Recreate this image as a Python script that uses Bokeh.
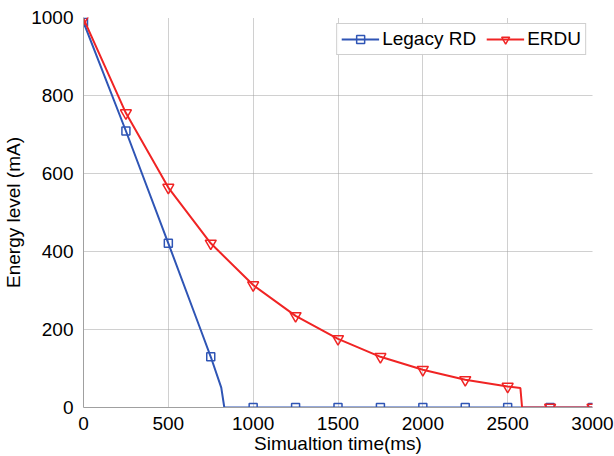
from bokeh.plotting import figure
from bokeh.models import Legend, LegendItem, FixedTicker
from bokeh.embed import file_html
from bokeh.resources import INLINE

# marker data (every 250 ms)
t_markers = [0, 250, 500, 750, 1000, 1250, 1500, 1750, 2000, 2250, 2500, 2750, 3000]
legacy_markers = [988, 709, 421, 130, 0, 0, 0, 0, 0, 0, 0, 0, 0]
erdu_markers = [997, 755, 564, 421, 314, 235, 176, 130, 97, 71, 54, 0, 0]

# line data (includes depletion points)
legacy_t = [0, 250, 500, 690, 750, 812, 830, 1000, 1250, 1500, 1750, 2000, 2250, 2500, 2750, 3000]
legacy_e = [988, 709, 421, 200, 130, 51, 0, 0, 0, 0, 0, 0, 0, 0, 0, 0]
erdu_t = [0, 250, 500, 750, 1000, 1250, 1500, 1750, 2000, 2250, 2500, 2575, 2585, 2750, 3000]
erdu_e = [997, 755, 564, 421, 314, 235, 176, 130, 97, 71, 54, 50, 0, 0, 0]

x_ticks = [0, 500, 1000, 1500, 2000, 2500, 3000]
y_ticks = [0, 200, 400, 600, 800, 1000]

BLUE = "#2f55b5"
RED = "#f02424"
FONT = "Liberation Sans"

p = figure(width=614, height=456, x_range=(0, 3000), y_range=(0, 1000),
           output_backend="svg", toolbar_location=None,
           min_border_left=79, min_border_top=17, min_border_right=22, min_border_bottom=47,
           background_fill_color="white", border_fill_color="white")
p.outline_line_color = None

l1 = p.line(legacy_t, legacy_e, line_color=BLUE, line_width=2)
s1 = p.scatter(t_markers, legacy_markers, marker="square", size=8,
               line_color=BLUE, line_width=1.5, fill_alpha=0)
l2 = p.line(erdu_t, erdu_e, line_color=RED, line_width=2)
s2 = p.scatter(t_markers, erdu_markers, marker="inverted_triangle", size=11,
               line_color=RED, line_width=1.5, fill_alpha=0)

p.xaxis.ticker = FixedTicker(ticks=x_ticks)
p.yaxis.ticker = FixedTicker(ticks=y_ticks)
for ax in (p.xaxis[0], p.yaxis[0]):
    ax.major_label_text_font = FONT
    ax.major_label_text_font_size = "19px"
    ax.major_label_text_color = "black"
    ax.axis_label_text_font = FONT
    ax.axis_label_text_font_size = "19px"
    ax.axis_label_text_font_style = "normal"
    ax.axis_label_text_color = "black"
    ax.axis_line_color = "#a0a0a0"
    ax.axis_line_width = 1
    ax.major_tick_line_color = None
    ax.minor_tick_line_color = None
p.xaxis.axis_label = "Simualtion time(ms)"
p.yaxis.axis_label = "Energy level (mA)"
p.xaxis.major_label_standoff = 3
p.xaxis.axis_label_standoff = 0
p.yaxis.major_label_standoff = 4
p.yaxis.axis_label_standoff = 4

for g in (p.xgrid[0], p.ygrid[0]):
    g.grid_line_color = "#a0a0a0"
    g.grid_line_dash = "1 1"
    g.grid_line_width = 1

legend = Legend(items=[LegendItem(label="Legacy RD", renderers=[l1, s1]),
                       LegendItem(label="ERDU", renderers=[l2, s2])],
                orientation="horizontal", location="top_right")
legend.label_text_font = FONT
legend.label_text_font_size = "19px"
legend.label_text_color = "black"
legend.border_line_color = "#a0a0a0"
legend.border_line_width = 1
legend.margin = 6
legend.padding = 4
legend.spacing = 10
legend.glyph_width = 38
legend.glyph_height = 20
legend.label_standoff = 3
legend.label_height = 20
p.add_layout(legend, "center")

open("out.html", "w").write(file_html(p, INLINE))
